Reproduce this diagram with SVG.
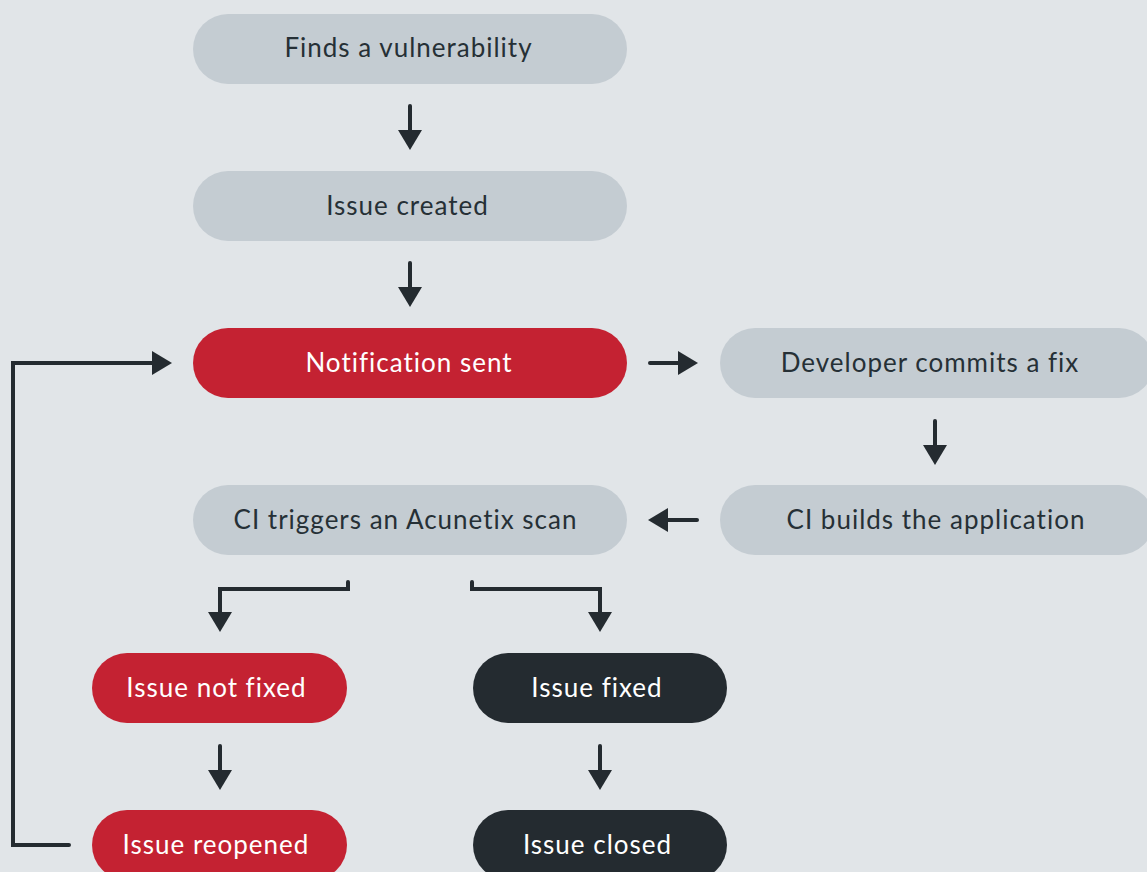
<svg xmlns="http://www.w3.org/2000/svg" width="1147" height="872" viewBox="0 0 1147 872">
<style>
.gray{fill:#c4ccd2}
.red{fill:#c42232}
.dark{fill:#242b30}
text{font-family:Lato,"Noto Sans","Liberation Sans",sans-serif;font-size:26px;letter-spacing:1px;text-anchor:middle}
.tg{fill:#263036}
.tw{fill:#ffffff}
.conn path{fill:none;stroke:#242b30;stroke-width:4;stroke-linecap:round;stroke-linejoin:miter}
</style>
<defs>
<marker id="ah" viewBox="0 0 20 24" refX="2" refY="12" markerWidth="20" markerHeight="24" markerUnits="userSpaceOnUse" orient="auto">
<polygon points="0,0 20,12 0,24" fill="#242b30"/>
</marker>
</defs>
<rect width="1147" height="872" fill="#e1e5e8"/>
<g id="n1"><rect class="gray" x="193" y="14" width="434" height="70" rx="35"/><text class="tg" x="408.5" y="57">Finds a vulnerability</text></g>
<g id="n2"><rect class="gray" x="193" y="171" width="434" height="70" rx="35"/><text class="tg" x="407.5" y="215">Issue created</text></g>
<g id="n3"><rect class="red" x="193" y="328" width="434" height="70" rx="35"/><text class="tw" x="409" y="372">Notification sent</text></g>
<g id="n4"><rect class="gray" x="720" y="328" width="434" height="70" rx="35"/><text class="tg" x="930" y="372">Developer commits a fix</text></g>
<g id="n5"><rect class="gray" x="720" y="485" width="434" height="70" rx="35"/><text class="tg" x="936" y="529">CI builds the application</text></g>
<g id="n6"><rect class="gray" x="193" y="485" width="434" height="70" rx="35"/><text class="tg" x="405.5" y="529">CI triggers an Acunetix scan</text></g>
<g id="n7"><rect class="red" x="92" y="653" width="255" height="70" rx="35"/><text class="tw" x="216.5" y="697">Issue not fixed</text></g>
<g id="n8"><rect class="dark" x="473" y="653" width="254" height="70" rx="35"/><text class="tw" x="597" y="697">Issue fixed</text></g>
<g id="n9"><rect class="red" x="92" y="810" width="255" height="70" rx="35"/><text class="tw" x="216" y="854">Issue reopened</text></g>
<g id="n10"><rect class="dark" x="473" y="810" width="254" height="70" rx="35"/><text class="tw" x="597.5" y="854">Issue closed</text></g>
<g id="connectors" class="conn">
<path d="M410,106 V132" marker-end="url(#ah)"/>
<path d="M410,263 V289" marker-end="url(#ah)"/>
<path d="M650,363 H680" marker-end="url(#ah)"/>
<path d="M935,421 V447" marker-end="url(#ah)"/>
<path d="M697,520 H666" marker-end="url(#ah)"/>
<path d="M348,582 V589 H220 V614" marker-end="url(#ah)"/>
<path d="M472,582 V589 H600 V614" marker-end="url(#ah)"/>
<path d="M220,746 V772" marker-end="url(#ah)"/>
<path d="M600,746 V772" marker-end="url(#ah)"/>
<path d="M69,845 H13 V363 H154" marker-end="url(#ah)"/>
</g>
</svg>
